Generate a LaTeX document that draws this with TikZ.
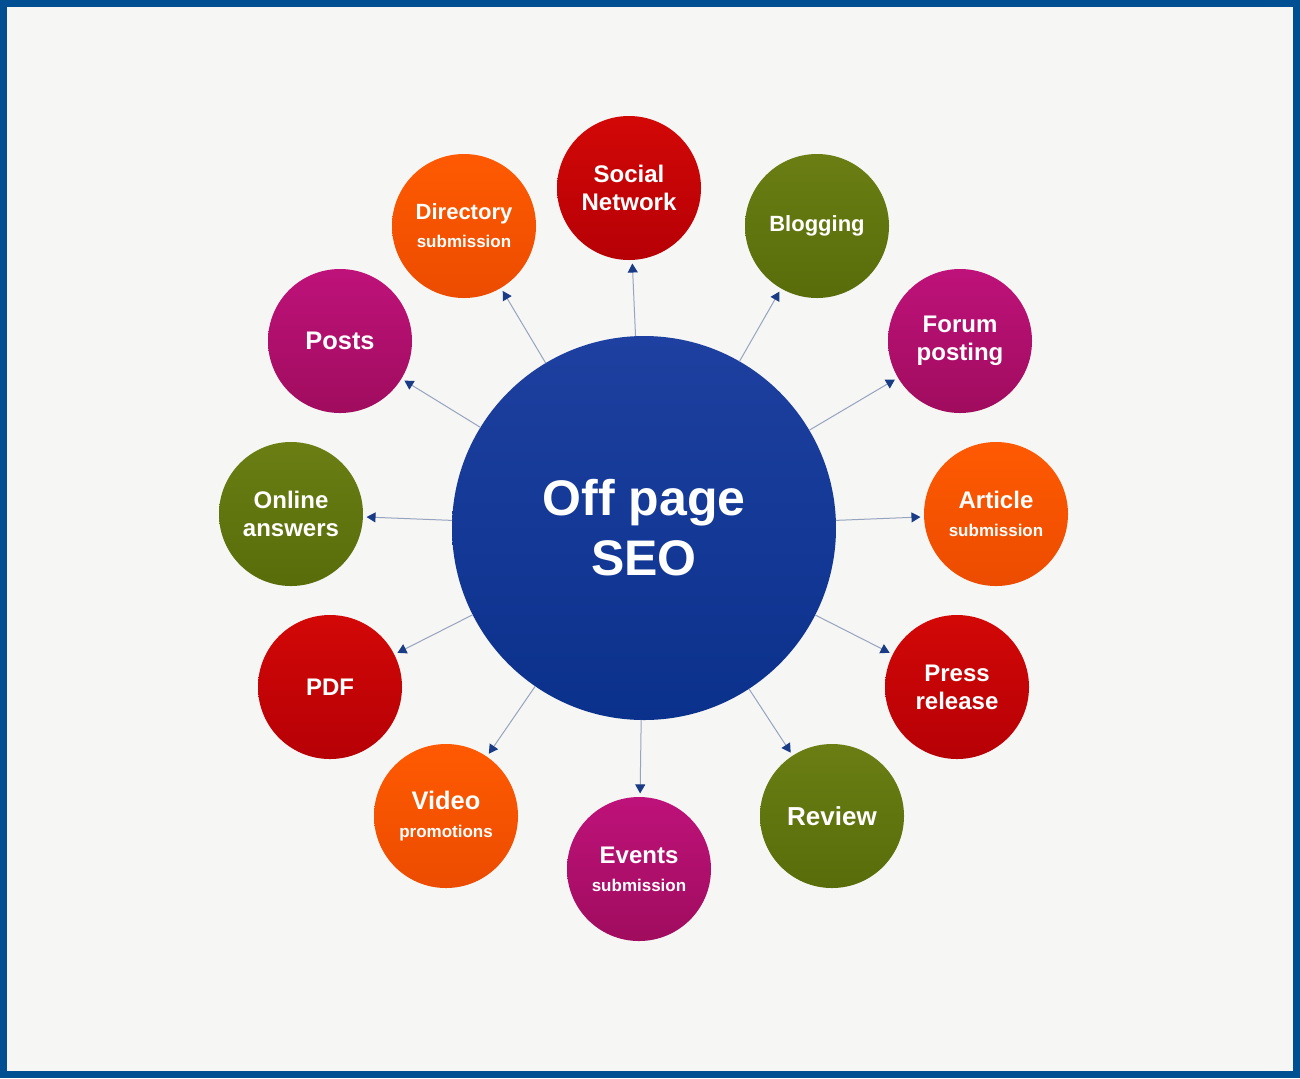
\documentclass[tikz,border=0pt]{standalone}
\usepackage{fontspec}
\setmainfont{Liberation Sans}
\usetikzlibrary{arrows.meta}
\definecolor{framec}{HTML}{004F93}
\definecolor{bgc}{HTML}{F6F6F4}
\definecolor{linec}{HTML}{97A4C0}
\definecolor{tipc}{HTML}{1A3C86}
\definecolor{orT}{HTML}{FF5A02}
\definecolor{orB}{HTML}{EC4C00}
\definecolor{rdT}{HTML}{D20806}
\definecolor{rdB}{HTML}{B60006}
\definecolor{grT}{HTML}{6A7E14}
\definecolor{grB}{HTML}{586C0A}
\definecolor{mgT}{HTML}{BE127A}
\definecolor{mgB}{HTML}{A00C5E}
\definecolor{blT}{HTML}{1E40A0}
\definecolor{blB}{HTML}{0A318C}
\tikzset{
  ball/.style={circle, minimum size=72pt, inner sep=0pt, outer sep=0pt, align=center,
    text=white, font=\bfseries\fontsize{12}{14}\selectfont},
  orball/.style={ball, top color=orT, bottom color=orB},
  rdball/.style={ball, top color=rdT, bottom color=rdB},
  grball/.style={ball, top color=grT, bottom color=grB},
  mgball/.style={ball, top color=mgT, bottom color=mgB},
  hub/.style={circle, minimum size=192pt, inner sep=0pt, outer sep=0pt, align=center,
    text=white, top color=blT, bottom color=blB, font=\bfseries\fontsize{25}{30}\selectfont},
  arr/.style={draw=linec, line width=0.5pt, shorten >=1.8pt,
    -{Triangle[length=4.5pt,width=5pt,color=tipc]}},
}
\newcommand{\smalltxt}[1]{{\fontsize{8.5}{10}\selectfont #1}}
\begin{document}
\begin{tikzpicture}[x=0.5pt,y=-0.5pt]
\useasboundingbox (0,0) rectangle (1300,1078);
\fill[framec] (0,0) rectangle (1300,1078);
\fill[bgc] (7,7) rectangle (1293,1071);

\node[hub] (c) at (644,528) {Off page\\SEO};

\node[rdball] (soc) at (629,188) {Social\\Network};
\node[orball] (dir) at (464,226) {\fontsize{11}{14}\selectfont Directory\\\smalltxt{submission}};
\node[grball] (blog) at (817,226) {\fontsize{11}{14}\selectfont Blogging};
\node[mgball] (posts) at (340,341) {\fontsize{12.7}{14}\selectfont Posts};
\node[mgball] (forum) at (960,341) {Forum\\posting};
\node[grball] (online) at (291,514) {Online\\answers};
\node[orball] (article) at (996,514) {Article\\\smalltxt{submission}};
\node[rdball] (pdf) at (330,687) {PDF};
\node[rdball] (press) at (957,687) {Press\\release};
\node[orball] (video) at (446,816) {\fontsize{12.7}{15}\selectfont Video\\\smalltxt{promotions}};
\node[grball] (review) at (832,816) {\fontsize{13}{14}\selectfont Review};
\node[mgball] (events) at (639,869) {Events\\\smalltxt{submission}};

\foreach \t in {soc,dir,blog,posts,forum,online,article,pdf,press,video,review,events}
  \draw[arr] (c) -- (\t);
\end{tikzpicture}
\end{document}
